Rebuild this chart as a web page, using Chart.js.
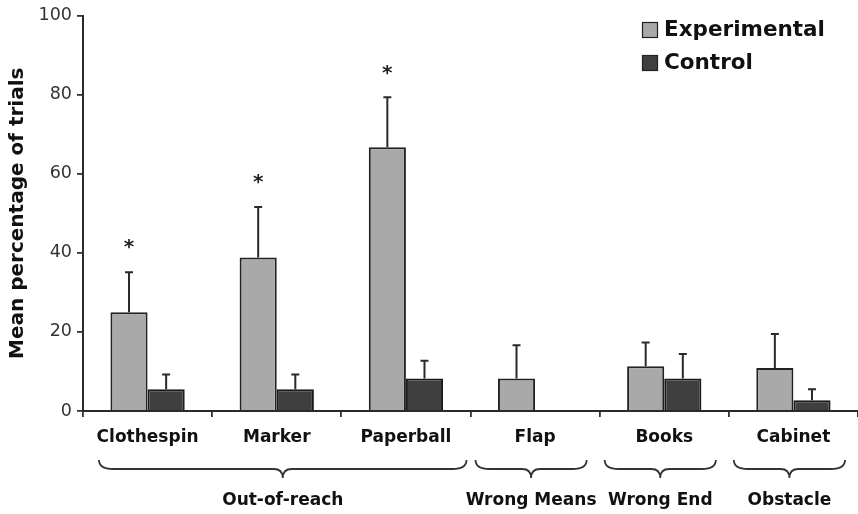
<!DOCTYPE html>
<html>
<head>
<meta charset="utf-8">
<script src="https://cdn.jsdelivr.net/npm/chart.js@4.4.1/dist/chart.umd.min.js"></script>
<style>
  body { margin: 0; background: #fff; }
  #wrap { width: 858px; height: 514px; position: relative; }
</style>
</head>
<body>
<div id="wrap"><canvas id="chart"></canvas></div>
<script>
// data
var categories = ["Clothespin", "Marker", "Paperball", "Flap", "Books", "Cabinet"];
var expMeans = [25.0, 38.8, 66.7, 8.2, 11.3, 10.9];
var expErr = [10.1, 12.8, 12.6, 8.4, 6.0, 8.6];
var ctrlMeans = [5.5, 5.5, 8.2, null, 8.2, 2.7];
var ctrlErr = [3.7, 3.7, 4.5, null, 6.2, 2.8];
var signif = ["*", "*", "*", "", "", ""];
var groupLabels = ["Out-of-reach", "Wrong Means", "Wrong End", "Obstacle"];
var groupFrom = [0, 3, 4, 5];
var groupTo = [2, 3, 4, 5];
var yTicks = [0, 20, 40, 60, 80, 100];

var FONT = "'DejaVu Sans', Verdana, sans-serif";
var expColor = "#a9a9a9";
var ctrlColor = "#3f3f3f";

function drawBrace(ctx, x1, x2, y) {
  var mid = (x1 + x2) / 2;
  var h = 9;
  ctx.beginPath();
  ctx.moveTo(x1, y - h);
  ctx.quadraticCurveTo(x1, y, x1 + 14, y);
  ctx.lineTo(mid - 9, y);
  ctx.quadraticCurveTo(mid, y, mid, y + h);
  ctx.quadraticCurveTo(mid, y, mid + 9, y);
  ctx.lineTo(x2 - 14, y);
  ctx.quadraticCurveTo(x2, y, x2, y - h);
  ctx.stroke();
}

var extras = {
  id: "extras",
  afterDatasetsDraw: function (chart) {
    var ctx = chart.ctx;
    var ys = chart.scales.y;
    var xs = chart.scales.x;
    var errs = [expErr, ctrlErr];
    var means = [expMeans, ctrlMeans];
    ctx.save();
    // error bars (upper only)
    ctx.strokeStyle = "#2a2a2a";
    ctx.lineWidth = 2;
    for (var d = 0; d < 2; d++) {
      var meta = chart.getDatasetMeta(d);
      meta.data.forEach(function (el, i) {
        if (means[d][i] == null) return;
        var top = ys.getPixelForValue(means[d][i] + errs[d][i]);
        ctx.beginPath();
        ctx.moveTo(el.x, el.y);
        ctx.lineTo(el.x, top);
        ctx.moveTo(el.x - 4, top);
        ctx.lineTo(el.x + 4, top);
        ctx.stroke();
      });
    }
    // significance stars
    ctx.fillStyle = "#222";
    ctx.font = "bold 20px " + FONT;
    ctx.textAlign = "center";
    ctx.textBaseline = "middle";
    var m0 = chart.getDatasetMeta(0);
    signif.forEach(function (s, i) {
      if (!s) return;
      var top = ys.getPixelForValue(expMeans[i] + expErr[i]);
      ctx.fillText(s, m0.data[i].x, top - 24);
    });
    // braces and group labels
    var catW = xs.getPixelForValue(1) - xs.getPixelForValue(0);
    ctx.strokeStyle = "#333";
    ctx.lineWidth = 1.8;
    ctx.fillStyle = "#111";
    ctx.font = "bold 17px " + FONT;
    groupLabels.forEach(function (g, i) {
      var x1 = xs.getPixelForValue(groupFrom[i]) - catW / 2 + (groupFrom[i] > 0 ? 5 : 16);
      var x2 = xs.getPixelForValue(groupTo[i]) + catW / 2 - (groupFrom[i] > 0 ? 13 : 4);
      drawBrace(ctx, x1, x2, 469);
      ctx.fillText(g, (x1 + x2) / 2, 501);
    });
    // legend
    var lx = 642, items = [["Experimental", expColor, 30], ["Control", ctrlColor, 63]];
    ctx.font = "bold 21.5px " + FONT;
    ctx.textAlign = "left";
    items.forEach(function (it) {
      ctx.fillStyle = it[1];
      ctx.fillRect(lx, it[2] - 8, 16, 16);
      ctx.strokeStyle = "#222";
      ctx.lineWidth = 1.2;
      ctx.strokeRect(lx + 0.5, it[2] - 7.5, 15, 15);
      ctx.fillStyle = "#111";
      ctx.fillText(it[0], lx + 22, it[2]);
    });
    ctx.restore();
  }
};

new Chart(document.getElementById("chart"), {
  type: "bar",
  data: {
    labels: categories,
    datasets: [
      { label: "Experimental", data: expMeans, backgroundColor: expColor, borderColor: "#222", borderWidth: 2 },
      { label: "Control", data: ctrlMeans, backgroundColor: ctrlColor, borderColor: "#1a1a1a", borderWidth: 2 }
    ]
  },
  options: {
    responsive: true,
    maintainAspectRatio: false,
    animation: false,
    layout: { padding: { top: 14, right: 0, left: 0, bottom: 0 } },
    datasets: { bar: { barPercentage: 1.0, categoryPercentage: 0.575 } },
    plugins: { legend: { display: false }, tooltip: { enabled: false } },
    scales: {
      x: {
        afterFit: function (s) { s.height = 103; },
        grid: { offset: true, drawOnChartArea: false, tickLength: 6, color: "#333", lineWidth: 1.8 },
        border: { color: "#2a2a2a", width: 2 },
        ticks: { color: "#111", font: { family: FONT, size: 17, weight: "bold" }, padding: 10, maxRotation: 0 }
      },
      y: {
        min: 0,
        max: 100,
        afterFit: function (s) { s.width = 83; },
        afterBuildTicks: function (s) { s.ticks = yTicks.map(function (v) { return { value: v }; }); },
        grid: { drawOnChartArea: false, tickLength: 6, color: "#333", lineWidth: 1.8 },
        border: { color: "#2a2a2a", width: 2 },
        ticks: { color: "#333", font: { family: FONT, size: 17.5 }, padding: 5 },
        title: { display: true, text: "Mean percentage of trials", color: "#111", font: { family: FONT, size: 20, weight: "bold" }, padding: { top: 6, bottom: 0 } }
      }
    }
  },
  plugins: [extras]
});
</script>
</body>
</html>
